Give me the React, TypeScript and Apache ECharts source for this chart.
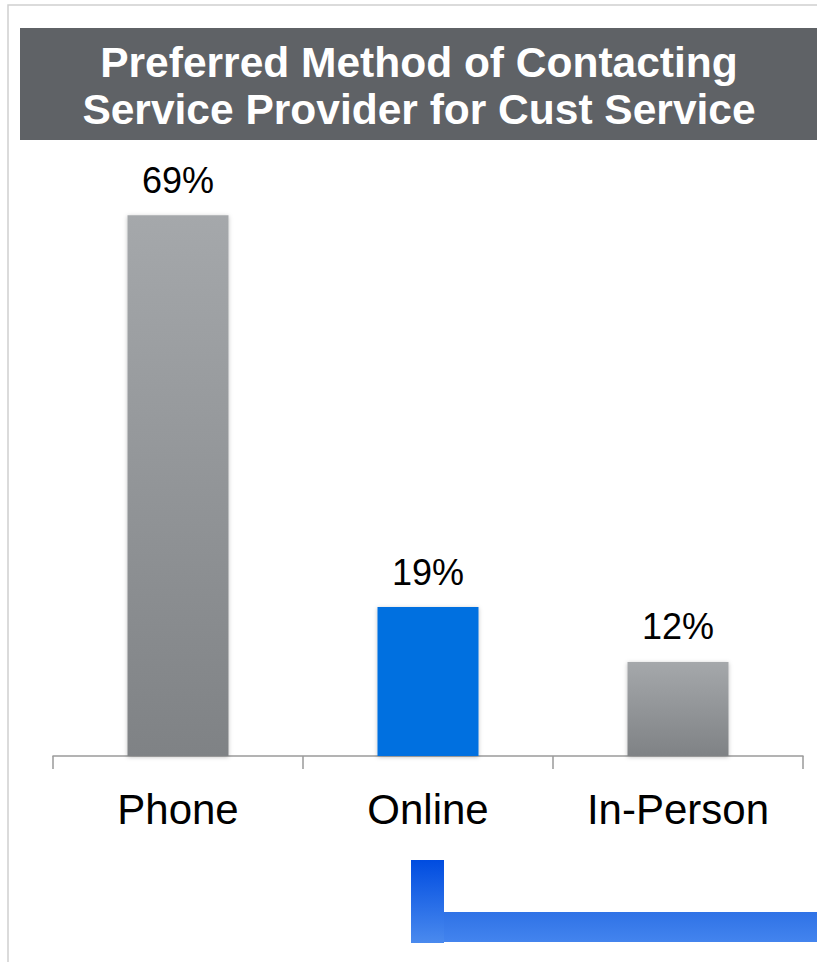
import React, { useEffect, useRef } from "react";
import * as echarts from "echarts";

const categories = ["Phone", "Online", "In-Person"];
const values = [69, 19, 12];
const highlightIndex = 1;
const titleLines = ["Preferred Method of Contacting", "Service Provider for Cust Service"];

const FONT = "'Liberation Sans', Arial, Helvetica, sans-serif";

export default function App() {
  const ref = useRef<HTMLDivElement>(null);
  useEffect(() => {
    if (!ref.current) return;
    const chart = echarts.init(ref.current, null, { renderer: "svg" });
    const grayGrad = new echarts.graphic.LinearGradient(0, 0, 0, 1, [
      { offset: 0, color: "#a5a8ab" },
      { offset: 1, color: "#7f8285" },
    ]);
    chart.setOption({
      animation: false,
      backgroundColor: "#ffffff",
      grid: { left: 53, right: 14, top: 129, bottom: 206, containLabel: false },
      xAxis: {
        type: "category",
        data: categories,
        axisLine: { show: true, lineStyle: { color: "#9a9a9a", width: 1.5 } },
        axisTick: { show: true, alignWithLabel: false, length: 13, lineStyle: { color: "#9a9a9a", width: 1.5 } },
        axisLabel: { color: "#000", fontSize: 42, fontFamily: FONT, margin: 32 },
      },
      yAxis: {
        type: "value",
        min: 0,
        max: 80,
        show: false,
        splitLine: { show: false },
      },
      series: [
        {
          type: "bar",
          barWidth: 101,
          data: values.map((v, i) => ({
            value: v,
            itemStyle: {
              color: i === highlightIndex ? "#0670e0" : grayGrad,
            },
          })),
          itemStyle: {
            shadowBlur: 4,
            shadowColor: "rgba(0,0,0,0.25)",
            shadowOffsetY: 1,
          },
          label: {
            show: true,
            position: "top",
            distance: 17,
            formatter: "{c}%",
            color: "#000",
            fontSize: 36,
            fontFamily: FONT,
          },
        },
      ],
      graphic: [
        {
          type: "rect",
          shape: { x: 8, y: 5, width: 830, height: 980 },
          style: { fill: "none", stroke: "#d0d0d0", lineWidth: 1.5 },
          silent: true,
        },
        {
          type: "rect",
          shape: { x: 20, y: 28, width: 797, height: 112 },
          style: { fill: "#5f6266" },
        },
        {
          type: "text",
          x: 419,
          y: 62,
          style: {
            text: titleLines[0],
            fill: "#ffffff",
            font: `bold 42.5px ${FONT}`,
            textAlign: "center",
            textVerticalAlign: "middle",
          },
        },
        {
          type: "text",
          x: 419,
          y: 109,
          style: {
            text: titleLines[1],
            fill: "#ffffff",
            font: `bold 42.5px ${FONT}`,
            textAlign: "center",
            textVerticalAlign: "middle",
          },
        },
        {
          type: "rect",
          shape: { x: 444, y: 912, width: 373, height: 30 },
          style: {
            fill: new echarts.graphic.LinearGradient(0, 0, 0, 1, [
              { offset: 0, color: "#2f72e6" },
              { offset: 1, color: "#4384ee" },
            ]),
          },
        },
        {
          type: "rect",
          shape: { x: 411, y: 860, width: 33, height: 83 },
          style: {
            fill: new echarts.graphic.LinearGradient(0, 0, 0, 1, [
              { offset: 0, color: "#004ce0" },
              { offset: 1, color: "#4a8aee" },
            ]),
          },
        },
      ],
    });
    return () => chart.dispose();
  }, []);
  return (
    <div
      ref={ref}
      style={{ position: "fixed", left: 0, top: 0, width: 817, height: 962 }}
    />
  );
}
